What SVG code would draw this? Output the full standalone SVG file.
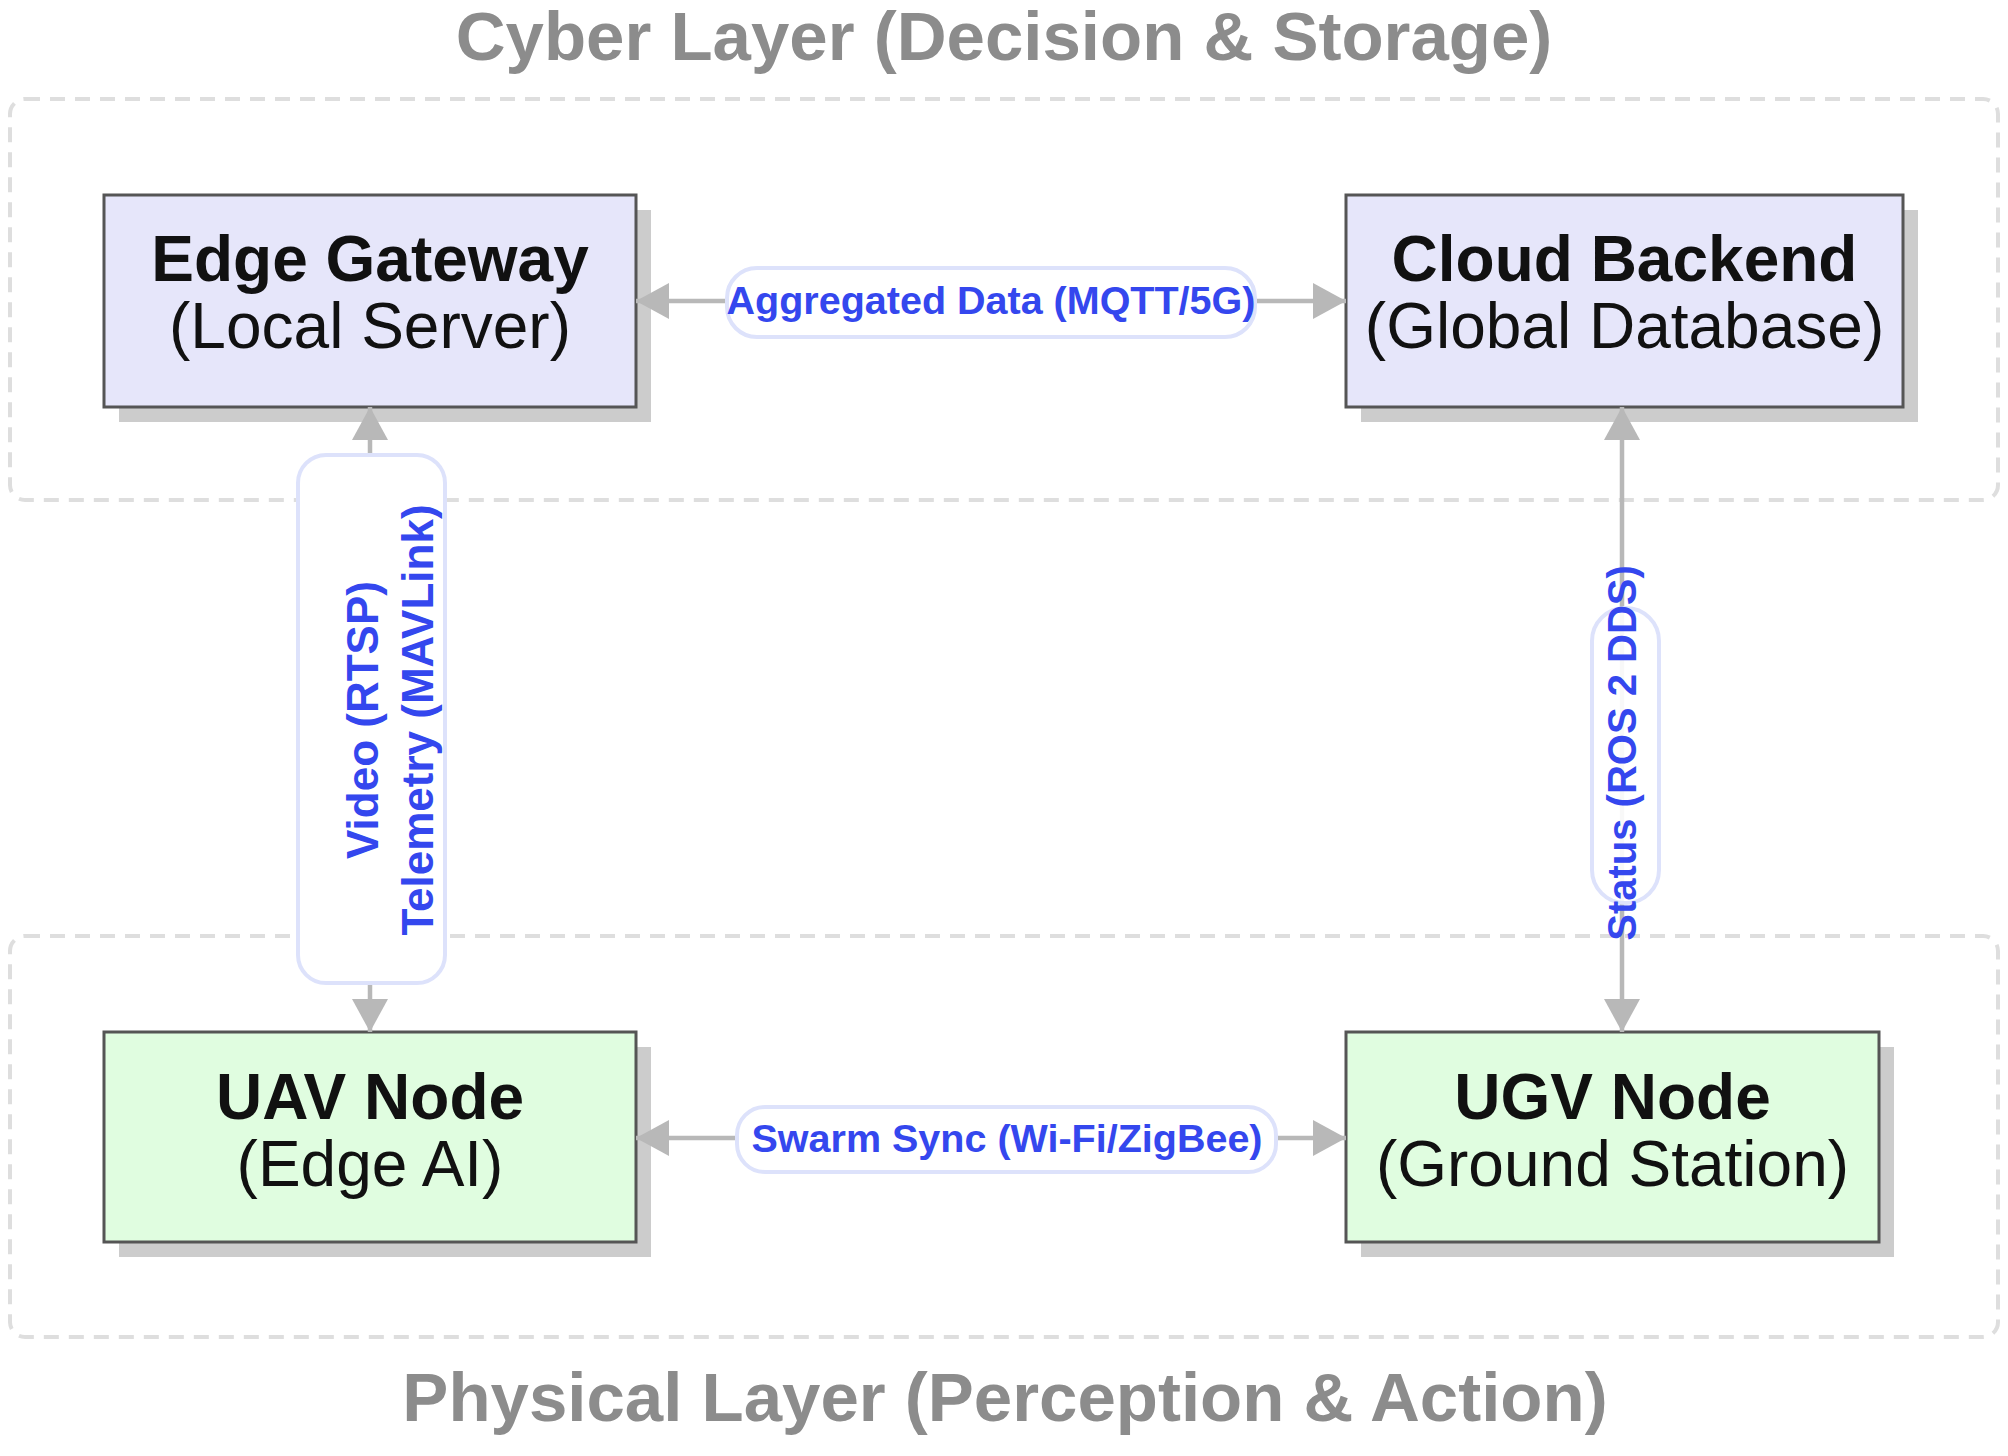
<svg xmlns="http://www.w3.org/2000/svg" width="2008" height="1456" viewBox="0 0 2008 1456">
<defs>
<style>
.cluster{fill:none;stroke:#dedede;stroke-width:4;stroke-dasharray:15 10}
.title{font-family:"Liberation Sans",Arial,sans-serif;font-weight:bold;font-size:69px;fill:#8c8c8c;text-anchor:middle}
.shadow{fill:#cccccc}
.box{stroke:#555555;stroke-width:3}
.cyber{fill:#e6e6fa}
.phys{fill:#e0fde0}
.nt{font-family:"Liberation Sans",Arial,sans-serif;font-size:64px;fill:#111111;text-anchor:middle}
.nt .b{font-weight:bold}
.edge{stroke:#b8b8b8;stroke-width:4.5;fill:none}
.pill{fill:#ffffff;stroke:#dde2fb;stroke-width:4}
.el{font-family:"Liberation Sans",Arial,sans-serif;font-weight:bold;fill:#3447ee;text-anchor:middle}
</style>
<marker id="arr" viewBox="0 0 33 36" refX="33" refY="18" markerWidth="33" markerHeight="36" markerUnits="userSpaceOnUse" orient="auto-start-reverse">
<path d="M0,0 L33,18 L0,36 Z" fill="#b8b8b8"/>
</marker>
</defs>
<rect width="2008" height="1456" fill="#ffffff"/>
<g id="cluster-cyber">
<rect class="cluster" x="10" y="99" width="1988" height="401" rx="15"/>
<text class="title" x="1004" y="60">Cyber Layer (Decision &amp; Storage)</text>
</g>
<g id="cluster-physical">
<rect class="cluster" x="10" y="936" width="1988" height="401" rx="15"/>
<text class="title" x="1005" y="1421">Physical Layer (Perception &amp; Action)</text>
</g>
<g id="node-edge-gateway">
<rect class="shadow" x="119" y="210" width="532" height="212"/>
<rect class="box cyber" x="104" y="195" width="532" height="212"/>
<text class="nt"><tspan class="b" x="370" y="281">Edge Gateway</tspan><tspan x="370" y="348">(Local Server)</tspan></text>
</g>
<g id="node-cloud-backend">
<rect class="shadow" x="1361" y="210" width="557" height="212"/>
<rect class="box cyber" x="1346" y="195" width="557" height="212"/>
<text class="nt"><tspan class="b" x="1624.5" y="281">Cloud Backend</tspan><tspan x="1624.5" y="348">(Global Database)</tspan></text>
</g>
<g id="node-uav">
<rect class="shadow" x="119" y="1047" width="532" height="210"/>
<rect class="box phys" x="104" y="1032" width="532" height="210"/>
<text class="nt"><tspan class="b" x="370" y="1119">UAV Node</tspan><tspan x="370" y="1186">(Edge AI)</tspan></text>
</g>
<g id="node-ugv">
<rect class="shadow" x="1361" y="1047" width="533" height="210"/>
<rect class="box phys" x="1346" y="1032" width="533" height="210"/>
<text class="nt"><tspan class="b" x="1612.5" y="1119">UGV Node</tspan><tspan x="1612.5" y="1186">(Ground Station)</tspan></text>
</g>
<g id="connectors">
<line class="edge" x1="636" y1="301" x2="1346" y2="301" marker-start="url(#arr)" marker-end="url(#arr)"/>
<line class="edge" x1="636" y1="1138" x2="1346" y2="1138" marker-start="url(#arr)" marker-end="url(#arr)"/>
<line class="edge" x1="370" y1="407" x2="370" y2="1032" marker-start="url(#arr)" marker-end="url(#arr)"/>
<line class="edge" x1="1622" y1="407" x2="1622" y2="1032" marker-start="url(#arr)" marker-end="url(#arr)"/>
<rect class="pill" x="727" y="268" width="528" height="69" rx="30"/>
<text class="el" x="991" y="314" font-size="39.5">Aggregated Data (MQTT/5G)</text>
<rect class="pill" x="737" y="1107" width="539" height="65" rx="28"/>
<text class="el" x="1007" y="1152" font-size="39.5">Swarm Sync (Wi-Fi/ZigBee)</text>
<rect class="pill" x="298" y="455" width="147" height="528" rx="28"/>
<text class="el" font-size="44" transform="translate(378,720) rotate(-90)"><tspan x="0" y="0">Video (RTSP)</tspan><tspan x="0" y="55">Telemetry (MAVLink)</tspan></text>
<rect class="pill" x="1592" y="608" width="67" height="295" rx="33" fill-opacity="0.9"/>
<text class="el" font-size="40" transform="translate(1636,753) rotate(-90)" x="0" y="0">Status (ROS 2 DDS)</text>
</g>
</svg>
